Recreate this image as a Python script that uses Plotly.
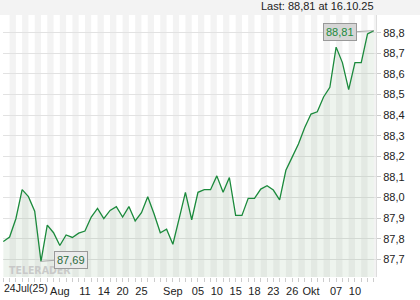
import plotly.graph_objects as go

# ---- data ----
prices = [87.786, 87.808, 87.897, 88.038, 88.004, 87.933, 87.69, 87.866, 87.829, 87.767,
          87.818, 87.806, 87.827, 87.837, 87.905, 87.947, 87.897, 87.937, 87.955, 87.905,
          87.956, 87.886, 87.926, 88.004, 87.921, 87.829, 87.846, 87.773, 87.897, 88.025,
          87.892, 88.025, 88.038, 88.038, 88.105, 88.025, 88.097, 87.913, 87.913, 87.996,
          87.996, 88.041, 88.057, 88.036, 87.988, 88.132, 88.196, 88.26, 88.34, 88.405,
          88.416, 88.488, 88.535, 88.73, 88.655, 88.524, 88.655, 88.655, 88.794, 88.81]
day_index = list(range(len(prices)))
first_tick_label = "24Jul(25)"
x_tick_pos = [0, 9, 13, 16, 19, 22, 27, 31, 34, 37, 40, 43, 46, 49, 53, 56]
x_tick_labels = ["", "Aug", "11", "14", "20", "25", "Sep", "05", "10", "15",
                 "18", "23", "26", "Okt", "07", "10"]
y_ticks = [87.7, 87.8, 87.9, 88.0, 88.1, 88.2, 88.3, 88.4, 88.5, 88.6, 88.7, 88.8]
y_tick_labels = ["87,7", "87,8", "87,9", "88,0", "88,1", "88,2", "88,3", "88,4", "88,5",
                 "88,6", "88,7", "88,8"]
last_value_text = "88,81"
low_value_text = "87,69"
header_text = "Last: 88,81 at 16.10.25"

FONT = "Liberation Sans, Arial, sans-serif"
LINE = "#1b8a3c"

fig = go.Figure()
fig.add_trace(go.Scatter(
    x=day_index, y=prices, mode="lines",
    line=dict(color=LINE, width=1.3),
    fill="tozeroy", fillcolor="rgba(40,120,40,0.08)",
    hoverinfo="skip", showlegend=False,
))

shapes = []
# alternating day stripes
for i in day_index:
    if i % 2 == 1:
        shapes.append(dict(type="rect", xref="x", yref="paper", x0=i, x1=i + 1, y0=0, y1=1,
                           fillcolor="#f3f3f3", line=dict(width=0), layer="below"))
# header band
shapes.append(dict(type="rect", xref="paper", yref="paper", x0=-0.01, x1=1.2, y0=1.0, y1=1.1,
                   fillcolor="#f3f3f3", line=dict(width=0), layer="below"))

i_last = len(prices) - 1
i_low = prices.index(min(prices))

annotations = [
    dict(xref="paper", yref="paper", x=1.0, y=1.0, xanchor="right", yanchor="bottom",
         text=header_text, showarrow=False, font=dict(family=FONT, size=11, color="#222"),
         yshift=1),
    dict(x=0, y=0, xref="x", yref="paper", xanchor="left", yanchor="top", yshift=-3,
         xshift=-1, text=first_tick_label, showarrow=False,
         font=dict(family=FONT, size=10.5, color="#222")),
    dict(x=i_last, y=prices[i_last], xref="x", yref="y", text=last_value_text,
         showarrow=True, arrowhead=0, arrowwidth=1, arrowcolor="#aaa",
         ax=-17, ay=1, xanchor="right", bgcolor="#d6d6d6", bordercolor="#999",
         borderwidth=1, borderpad=2, font=dict(family=FONT, size=11, color=LINE)),
    dict(xref="paper", yref="paper", x=0.012, y=0.0, xanchor="left", yanchor="bottom",
         yshift=-1, text="<b>TELERADER</b>", showarrow=False,
         font=dict(family="DejaVu Sans Condensed, DejaVu Sans", size=10.5,
                   color="rgba(195,195,195,0.85)")),
    dict(x=i_low, y=prices[i_low], xref="x", yref="y", text=low_value_text,
         showarrow=True, arrowhead=0, arrowwidth=1, arrowcolor="#aaa",
         ax=13, ay=-1, xanchor="left", bgcolor="#ebebeb", bordercolor="#999",
         borderwidth=1, borderpad=2, font=dict(family=FONT, size=11, color="#2a6a3a")),
]

fig.update_layout(
    width=420, height=300,
    margin=dict(l=3, r=44, t=15, b=19),
    paper_bgcolor="white", plot_bgcolor="white",
    shapes=shapes, annotations=annotations,
    xaxis=dict(range=[-0.05, 59.35], tickmode="array", tickvals=x_tick_pos,
               ticktext=x_tick_labels, ticks="outside", ticklen=4, tickcolor="#ccc",
               showgrid=False, zeroline=False, showline=False,
               tickfont=dict(family=FONT, size=11, color="#222"),
               minor=dict(dtick=1, tick0=0, ticks="outside", ticklen=4, tickcolor="#ccc",
                          showgrid=False)),
    yaxis=dict(range=[87.614, 88.886], side="right", tickmode="array", tickvals=y_ticks,
               ticktext=y_tick_labels, ticks="outside", ticklen=4, tickcolor="#ccc",
               showgrid=True, gridcolor="#e2e2e2", gridwidth=1, zeroline=False,
               showline=True, linecolor="#ddd", linewidth=1,
               tickfont=dict(family=FONT, size=11, color="#222")),
)

fig.write_html("out.html")
